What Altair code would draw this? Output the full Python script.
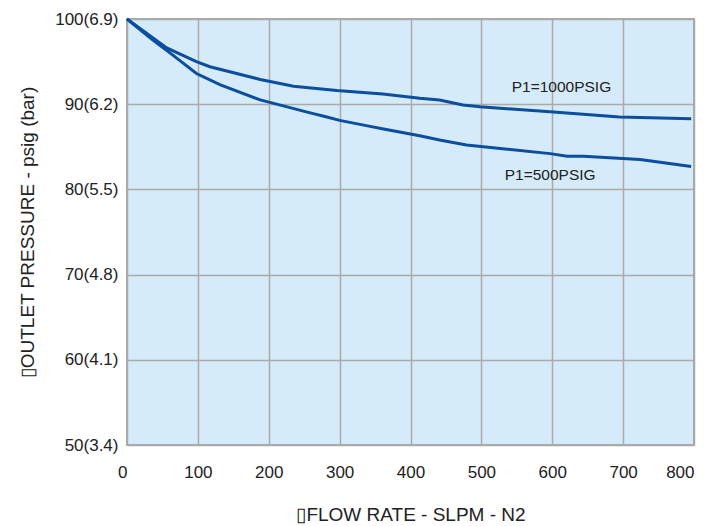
import altair as alt
import pandas as pd

# Flow rate (SLPM) and outlet pressure (psig)
x_1000 = [0, 56, 98, 117, 188, 235, 296, 361, 413, 441, 474, 498, 597, 695, 796]
y_1000 = [100, 96.6, 95.0, 94.4, 92.9, 92.1, 91.6, 91.2, 90.7, 90.5, 89.9, 89.7, 89.1, 88.5, 88.3]

x_500 = [0, 37, 61, 98, 131, 188, 253, 282, 300, 343, 362, 413, 441, 479, 597, 621, 644, 724, 796]
y_500 = [100, 97.5, 96.0, 93.6, 92.3, 90.5, 89.1, 88.5, 88.1, 87.4, 87.1, 86.3, 85.8, 85.2, 84.2, 83.9, 83.9, 83.5, 82.7]

series_names = ["P1=1000PSIG", "P1=500PSIG"]
label_x = [613, 597]
label_y = [92.0, 81.7]

y_ticks = [50, 60, 70, 80, 90, 100]
y_tick_labels = ["50(3.4)", "60(4.1)", "70(4.8)", "80(5.5)", "90(6.2)", "100(6.9)"]
x_ticks = [0, 100, 200, 300, 400, 500, 600, 700, 800]

rows = []
for xv, yv in zip(x_1000, y_1000):
    rows.append({"flow": xv, "pressure": yv, "series": series_names[0]})
for xv, yv in zip(x_500, y_500):
    rows.append({"flow": xv, "pressure": yv, "series": series_names[1]})
df = pd.DataFrame(rows)
labels_df = pd.DataFrame({"flow": label_x, "pressure": label_y, "text": series_names})

label_expr = "".join(
    f"datum.value == {v} ? '{t}' : " for v, t in zip(y_ticks, y_tick_labels)
) + "datum.label"

xs = alt.Scale(domain=[0, 800], nice=False, zero=False)
ys = alt.Scale(domain=[50, 100], nice=False, zero=False)

edge_test = f"datum.value == {x_ticks[0]} || datum.value == {x_ticks[-1]}"

lines = alt.Chart(df).mark_line(color="#0b4d9f", strokeWidth=3).encode(
    x=alt.X("flow:Q", scale=xs,
            axis=alt.Axis(values=x_ticks, title="\u25afFLOW RATE - SLPM - N2",
                          grid=True, gridColor="#aaaaaa", gridWidth=1.5,
                          ticks=False, domain=False, labelPadding=19.5,
                          labelFlush=False,
                          labelAlign=alt.condition(edge_test, alt.value("right"), alt.value("center")),
                          labelFontSize=17, labelColor="#222222",
                          labelFont="Liberation Sans", titleFont="Liberation Sans",
                          titleFontSize=19, titleFontWeight="normal",
                          titleColor="#222222", titlePadding=25)),
    y=alt.Y("pressure:Q", scale=ys,
            axis=alt.Axis(values=y_ticks, labelExpr=label_expr,
                          title="\u25afOUTLET PRESSURE - psig (bar)",
                          grid=True, gridColor="#aaaaaa", gridWidth=1.5,
                          ticks=False, domain=False, labelPadding=9,
                          labelFontSize=17, labelColor="#222222",
                          labelFont="Liberation Sans", titleFont="Liberation Sans",
                          titleFontSize=19, titleFontWeight="normal",
                          titleColor="#222222", titlePadding=17)),
    detail="series:N",
)

texts = alt.Chart(labels_df).mark_text(
    fontSize=15.5, font="Liberation Sans", color="#222222"
).encode(x=alt.X("flow:Q", scale=xs), y=alt.Y("pressure:Q", scale=ys), text="text:N")

chart = alt.layer(lines, texts).properties(
    width=567, height=426,
    autosize=alt.AutoSizeParams(type="none"),
    padding={"left": 119, "top": 11, "right": 7, "bottom": 81},
).configure_view(
    fill="#d5ebf9", stroke="#aaaaaa", strokeWidth=2
)

chart.save("out.html", embed_options={"renderer": "svg", "actions": False})
